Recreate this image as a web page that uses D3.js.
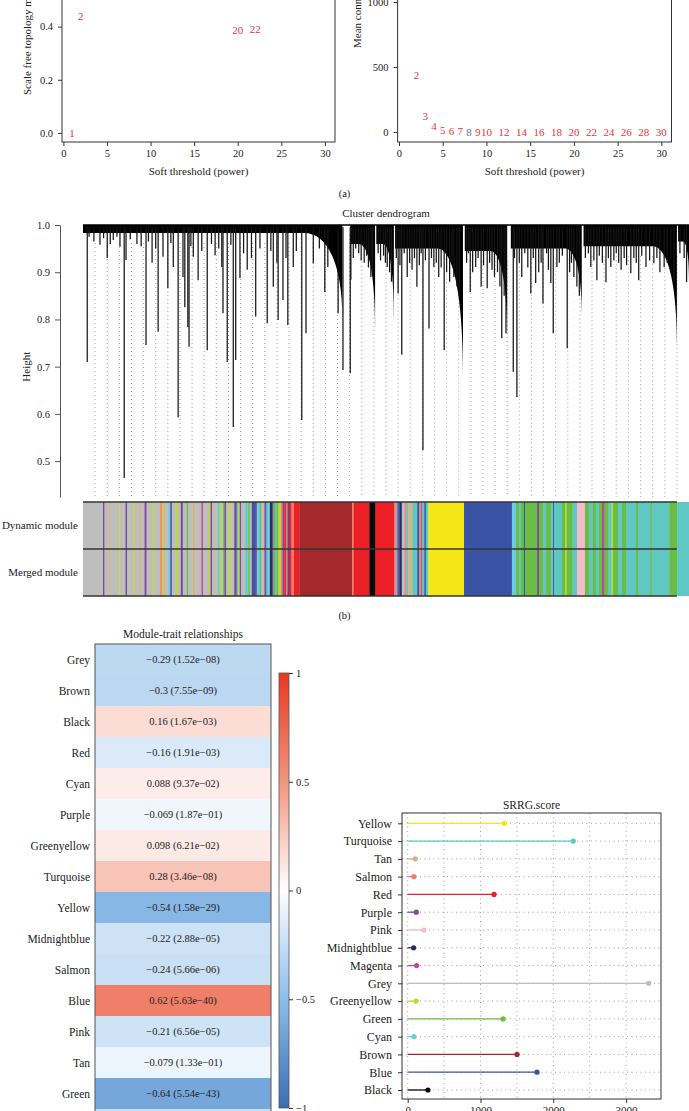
<!DOCTYPE html>
<html>
<head>
<meta charset="utf-8">
<script src="https://cdn.jsdelivr.net/npm/d3@7"></script>
<style>
  body { margin: 0; background: #fff; }
  svg { display: block; }
</style>
</head>
<body>
<script>
// ---------- data ----------
// (a) soft-threshold scan (only the points that fall inside the picture)
var fitPowers = [1, 2, 20, 22];
var fitValues = [0.0, 0.44, 0.385, 0.39];
var connPowers = [2, 3, 4, 5, 6, 7, 8, 9, 10, 12, 14, 16, 18, 20, 22, 24, 26, 28, 30];
var connValues = [436, 125, 46, 16, 8, 4, 2, 1.2, 0.8, 0.5, 0.3, 0.2, 0.15, 0.1, 0.08, 0.06, 0.05, 0.04, 0.03];
var chosenPower = 8;
var powerTicks = [0, 5, 10, 15, 20, 25, 30];
var fitTicks = [0, 0.2, 0.4];
var connTicks = [0, 500, 1000];

// (b) dendrogram, leaf order 0..1000
var clusterStart    = [0,     441,   484,   515,   630,   706,   826,   982];
var clusterEnd      = [428,   482,   513,   627,   700,   823,   980,   1000];
var clusterShoulder = [365,   455,   495,   585,   672,   795,   940,   990];
var clusterBase     = [0.983, 0.96,  0.96,  0.95,  0.945, 0.95,  0.955, 0.965];
var clusterTail     = [0.80,  0.778, 0.795, 0.68,  0.76,  0.81,  0.742, 0.879];

var dendroSpikes = [
  [7,0.71],[10,0.975],[18,0.965],[28,0.958],[34,0.972],[40,0.93],[45,0.96],[50,0.968],[56,0.975],
  [61,0.954],[68,0.464],[71,0.926],[78,0.97],[89,0.96],[96,0.955],[104,0.746],[108,0.965],[114,0.92],
  [120,0.95],[124,0.774],[132,0.933],[140,0.866],[145,0.962],[149,0.911],[157,0.593],[165,0.89],
  [168,0.826],[173,0.784],[175,0.742],[178,0.955],[182,0.933],[190,0.883],[196,0.945],[205,0.735],
  [212,0.96],[218,0.936],[224,0.95],[229,0.911],[231,0.813],[238,0.71],[244,0.958],[248,0.572],
  [252,0.714],[259,0.888],[265,0.94],[271,0.905],[278,0.93],[285,0.806],[292,0.95],[304,0.792],
  [310,0.945],[314,0.869],[320,0.92],[322,0.799],[330,0.841],[335,0.93],[338,0.788],[347,0.911],
  [352,0.945],[361,0.587],[368,0.771],[380,0.919],[390,0.95],[399,0.858],[404,0.911],[421,0.813],
  [429,0.693],[441,0.686],[442,0.884],[446,0.93],[450,0.95],[455,0.94],[459,0.925],[464,0.92],
  [468,0.935],[471,0.91],[475,0.89],[478,0.9],[487,0.94],[491,0.925],[496,0.935],[499,0.92],
  [502,0.911],[506,0.9],[509,0.88],[517,0.93],[520,0.855],[523,0.915],[526,0.725],[530,0.94],
  [535,0.89],[539,0.92],[543,0.905],[547,0.93],[551,0.869],[555,0.915],[558,0.94],[561,0.523],
  [565,0.925],[571,0.781],[575,0.93],[579,0.911],[583,0.92],[587,0.89],[591,0.91],[596,0.735],
  [600,0.9],[605,0.88],[609,0.92],[612,0.89],[617,0.87],[621,0.85],[633,0.92],[636,0.94],
  [639,0.858],[643,0.9],[648,0.911],[652,0.93],[657,0.869],[661,0.915],[667,0.866],[671,0.92],
  [675,0.905],[679,0.89],[684,0.9],[688,0.87],[691,0.76],[695,0.85],[698,0.771],[710,0.689],
  [712,0.93],[716,0.636],[720,0.92],[724,0.89],[729,0.94],[734,0.91],[739,0.855],[743,0.93],
  [747,0.877],[752,0.9],[756,0.92],[759,0.834],[765,0.94],[768,0.905],[772,0.877],[776,0.771],
  [782,0.911],[786,0.92],[791,0.935],[799,0.739],[803,0.9],[806,0.92],[810,0.89],[815,0.87],
  [819,0.85],[829,0.93],[834,0.94],[838,0.911],[843,0.925],[848,0.883],[852,0.935],[857,0.92],
  [863,0.879],[867,0.93],[871,0.911],[876,0.925],[880,0.94],[884,0.92],[888,0.905],[893,0.93],
  [897,0.915],[904,0.898],[909,0.93],[913,0.92],[917,0.883],[922,0.935],[929,0.911],[935,0.925],
  [942,0.919],[947,0.93],[952,0.9],[959,0.911],[964,0.92],[970,0.93],[975,0.88],[985,0.94],
  [992,0.93],[996,0.879]
];
var heightTicks = [0.5, 0.6, 0.7, 0.8, 0.9, 1.0];
var guideCount = 50;

// module colour runs along the leaf order
var runColors = [
  "grey","purple","grey","tan","grey","greenyellow","grey","purple","grey","greenyellow",
  "grey","tan","grey","purple","grey","greenyellow","grey","salmon","greenyellow","tan",
  "grey","cyan","blue","grey","greenyellow","grey","purple","grey","green","grey",
  "tan","grey","magenta","grey","greenyellow","purple","grey","turquoise","greenyellow","grey",
  "green","purple","grey","greenyellow","grey","purple","turquoise","greenyellow","purple","grey",
  "turquoise","cyan","green","grey","blue","purple","cyan","green","grey","purple",
  "turquoise","cyan","midnightblue","purple","green","turquoise","green","greenyellow","salmon","purple",
  "red","salmon","blue","red","salmon","red","brown","salmon","red","black",
  "red","salmon","turquoise","purple","midnightblue","grey","salmon","turquoise","tan","turquoise",
  "blue","salmon","purple","turquoise","blue","turquoise","yellow","blue","cyan","green",
  "turquoise","green","blue","green","purple","green","turquoise","green","turquoise","blue",
  "turquoise","green","greenyellow","green","turquoise","pink","green","turquoise","green","turquoise",
  "green","magenta","green","turquoise","greenyellow","green","turquoise","green","turquoise","green",
  "turquoise","green","turquoise","green","turquoise"
];
var runLengths = [
  33,2.5,6.6,2.5,13,2.5,10,2.5,10,2.5,
  6.6,3.3,6.6,3.3,10,2.5,10,2.5,2.5,2.5,
  6.6,2.5,2.5,6.6,3.3,5,3.3,6.6,2.5,6.6,
  5,10,2.5,10,2.5,2.5,10,2.5,2.5,3.3,
  2.5,2.5,5,3.3,5,4.1,2.5,2.5,2.5,6.6,
  2.5,2.5,2.5,3.3,5,3.3,5,2.5,5,3.3,
  3.3,2.5,3.3,2.5,2.5,2.5,3.3,4.1,2.5,3.3,
  2.5,2.5,2.5,4.1,4.1,9,87,2.5,26,10,
  31,2.5,2.5,4.1,3.3,5,2.5,3.3,6.6,8.2,
  3.3,3.3,1.65,3.3,2.5,4.1,59,79,6.6,5,
  3.3,5,1.65,20,3.3,6.6,5,8.2,3.3,1.65,
  13,5,2.5,10,7.4,13,6.6,6.6,5,5,
  5,4.1,6.6,5,2.5,8.2,6.6,6.6,16.5,3.3,
  20,2.5,29,13,20
];
var barRows = ["Dynamic module", "Merged module"];

// (c) module-trait relationships
var traitModules = ["Grey","Brown","Black","Red","Cyan","Purple","Greenyellow","Turquoise","Yellow",
  "Midnightblue","Salmon","Blue","Pink","Tan","Green","Magenta"];
var traitCor = [-0.29, -0.3, 0.16, -0.16, 0.088, -0.069, 0.098, 0.28, -0.54, -0.22, -0.24, 0.62,
  -0.21, -0.079, -0.64, -0.25];
var traitP = ["1.52e-08","7.55e-09","1.67e-03","1.91e-03","9.37e-02","1.87e-01","6.21e-02","3.46e-08",
  "1.58e-29","2.88e-05","5.66e-06","5.63e-40","6.56e-05","1.33e-01","5.54e-43", null];
var legendTicks = [-1, -0.5, 0, 0.5, 1];

// (d) SRRG score per module
var srrgModules = ["Yellow","Turquoise","Tan","Salmon","Red","Purple","Pink","Midnightblue","Magenta",
  "Grey","Greenyellow","Green","Cyan","Brown","Blue","Black"];
var srrgScore = [1329, 2274, 104, 86, 1186, 118, 223, 82, 123, 3310, 114, 1310, 86, 1502, 1776, 278];
var scoreTicks = [0, 1000, 2000, 3000];
var scoreGrid = [0, 500, 1000, 1500, 2000, 2500, 3000];

// ---------- styling ----------
var SERIF = '"Liberation Serif", "DejaVu Serif", serif';
var moduleColor = {
  grey: "#bebebe", turquoise: "#5fc8c2", blue: "#3a53a4", brown: "#a3292c", yellow: "#f5e617",
  green: "#6abd45", red: "#ec1f26", black: "#0a0a0a", pink: "#f7bbca", magenta: "#bb4a9c",
  purple: "#7d4b9e", greenyellow: "#bfd73a", tan: "#d2b48c", salmon: "#f47e6b", cyan: "#6ccde2",
  midnightblue: "#262a6d"
};
var INK = "#333";

var width = 689, height = 1111;
var svg = d3.select("body").append("svg")
  .attr("width", width).attr("height", height)
  .attr("font-family", SERIF);
svg.append("rect").attr("width", width).attr("height", height).attr("fill", "#fff");

function styleAxis(g, size) {
  g.attr("font-family", SERIF).attr("font-size", size);
  g.selectAll("line, path").attr("stroke", INK);
  g.selectAll("text").attr("fill", "#222");
}
function minus(s) { return String(s).replace(/-/g, "\u2212"); }

// ---------- (a) ----------
var xa1 = d3.scaleLinear().domain([-0.16, 31.16]).range([62, 335]);
var ya1 = d3.scaleLinear().domain([-0.034, 0.5]).range([142, 0]);
var xa2 = d3.scaleLinear().domain([-0.16, 31.16]).range([397.6, 671.5]);
var ya2 = d3.scaleLinear().domain([-77, 1092]).range([142, -10]);

[[xa1, ya1], [xa2, ya2]].forEach(function (s) {
  svg.append("rect")
    .attr("x", s[0].range()[0]).attr("y", -20)
    .attr("width", s[0].range()[1] - s[0].range()[0])
    .attr("height", s[1].range()[0] + 20)
    .attr("fill", "none").attr("stroke", INK).attr("stroke-width", 1);
  svg.append("g").attr("transform", "translate(0," + s[1].range()[0] + ")")
    .call(d3.axisBottom(s[0]).tickValues(powerTicks).tickSize(4).tickPadding(4))
    .call(function (g) { g.select(".domain").remove(); styleAxis(g, 10.5); });
});

svg.append("g").attr("transform", "translate(62,0)")
  .call(d3.axisLeft(ya1).tickValues(fitTicks).tickFormat(d3.format(".1f")).tickSize(4).tickPadding(5))
  .call(function (g) { g.select(".domain").remove(); styleAxis(g, 10.5); });
svg.append("g").attr("transform", "translate(397.6,0)")
  .call(d3.axisLeft(ya2).tickValues(connTicks).tickFormat(d3.format("d")).tickSize(4).tickPadding(5))
  .call(function (g) { g.select(".domain").remove(); styleAxis(g, 10.5); });

svg.append("text").attr("x", d3.mean(xa1.range())).attr("y", 175)
  .attr("text-anchor", "middle").attr("font-size", 11).attr("fill", "#222")
  .text("Soft threshold (power)");
svg.append("text").attr("x", d3.mean(xa2.range())).attr("y", 175)
  .attr("text-anchor", "middle").attr("font-size", 11).attr("fill", "#222")
  .text("Soft threshold (power)");
svg.append("text").attr("transform", "translate(31,95) rotate(-90)")
  .attr("font-size", 11).attr("fill", "#222")
  .text("Scale free topology model fit, signed R^2");
svg.append("text").attr("transform", "translate(361,48) rotate(-90)")
  .attr("font-size", 11).attr("fill", "#222")
  .text("Mean connectivity");

function powerColor(p) { return p === chosenPower ? "#5a6cb4" : "#e8323a"; }

svg.append("g").selectAll("text").data(fitPowers).enter().append("text")
  .attr("x", function (d) { return xa1(d); })
  .attr("y", function (d, i) { return ya1(fitValues[i]); })
  .attr("dy", "0.35em").attr("text-anchor", "middle").attr("font-size", 11)
  .attr("fill", powerColor)
  .text(function (d) { return d; });
svg.append("g").selectAll("text").data(connPowers).enter().append("text")
  .attr("x", function (d) { return xa2(d); })
  .attr("y", function (d, i) { return ya2(connValues[i]); })
  .attr("dy", "0.35em").attr("text-anchor", "middle").attr("font-size", 11)
  .attr("fill", powerColor)
  .text(function (d) { return d; });

svg.append("text").attr("x", 344.5).attr("y", 197).attr("text-anchor", "middle")
  .attr("font-size", 10.5).attr("fill", "#222").text("(a)");

// ---------- (b) dendrogram ----------
var xd = d3.scaleLinear().domain([0, 1000]).range([83, 689]);
var yd = d3.scaleLinear().domain([0.424, 1.0]).range([497, 225]);

svg.append("text").attr("x", d3.mean(xd.range())).attr("y", 217)
  .attr("text-anchor", "middle").attr("font-size", 11).attr("fill", "#222")
  .text("Cluster dendrogram");

svg.append("g").attr("transform", "translate(60,0)")
  .call(d3.axisLeft(yd).tickValues(heightTicks).tickFormat(d3.format(".1f")).tickSize(5).tickSizeOuter(0).tickPadding(5))
  .call(function (g) { styleAxis(g, 10.5); g.selectAll("line, path").attr("stroke", "#555"); });
svg.append("text").attr("transform", "translate(30," + yd(0.7) + ") rotate(-90)")
  .attr("text-anchor", "middle").attr("font-size", 11).attr("fill", "#222").text("Height");

var clusters = clusterStart.map(function (s, i) {
  return { start: s, end: clusterEnd[i], shoulder: clusterShoulder[i], base: clusterBase[i], tail: clusterTail[i] };
});
function baseAt(pos) {
  var c = clusters.find(function (c) { return pos >= c.start && pos <= c.end; });
  return c ? c.base : 1.0;
}

// guide lines first so the tree sits on top
var guides = d3.range(1, guideCount).map(function (i) { return i * 1000 / guideCount; });
svg.append("g").selectAll("line").data(guides).enter().append("line")
  .attr("x1", function (d) { return xd(d); }).attr("x2", function (d) { return xd(d); })
  .attr("y1", function (d) { return yd(baseAt(d)) + 10; })
  .attr("y2", yd.range()[0])
  .attr("stroke", "#8f8f8f").attr("stroke-width", 0.9).attr("stroke-dasharray", "1,3");

var tree = svg.append("g");
tree.selectAll("path").data(clusters).enter().append("path")
  .attr("fill", "#000")
  .attr("d", function (c) {
    var x0 = xd(c.start), x1 = xd(c.end), xs = xd(c.shoulder);
    var yT = yd(1.0), yB = yd(c.base), yL = yd(c.tail);
    return "M" + x0 + "," + yT + "L" + x1 + "," + yT + "L" + x1 + "," + yL +
      "C" + x1 + "," + (yB + (yL - yB) * 0.3) + " " + (xs + (x1 - xs) * 0.55) + "," + yB + " " + xs + "," + yB +
      "L" + x0 + "," + yB + "Z";
  });
tree.selectAll("line.spike").data(dendroSpikes).enter().append("line")
  .attr("class", "spike")
  .attr("x1", function (d) { return xd(d[0]); }).attr("x2", function (d) { return xd(d[0]); })
  .attr("y1", yd(0.995))
  .attr("y2", function (d) { return yd(d[1]); })
  .attr("stroke", "#151515").attr("stroke-width", 1.25);
tree.append("line")
  .attr("x1", xd(0)).attr("x2", xd(1000)).attr("y1", yd(1.0)).attr("y2", yd(1.0))
  .attr("stroke", "#000").attr("stroke-width", 1.5);

// module colour bars
var yb = d3.scaleBand().domain(barRows).range([502, 596]);
var runStarts = [];
runLengths.reduce(function (acc, v) { runStarts.push(acc); return acc + v; }, 0);

svg.append("clipPath").attr("id", "barclip").append("rect")
  .attr("x", xd(0)).attr("y", yb.range()[0]).attr("width", xd(1000) - xd(0)).attr("height", yb.range()[1] - yb.range()[0]);

var bars = svg.append("g").attr("clip-path", "url(#barclip)");
barRows.forEach(function (row) {
  bars.append("g").selectAll("rect").data(runColors).enter().append("rect")
    .attr("x", function (d, i) { return xd(runStarts[i]); })
    .attr("width", function (d, i) { return xd(runStarts[i] + runLengths[i]) - xd(runStarts[i]) + 0.3; })
    .attr("y", yb(row)).attr("height", yb.bandwidth())
    .attr("fill", function (d) { return moduleColor[d]; });
});
[yb.range()[0], yb(barRows[1]), yb.range()[1]].forEach(function (y) {
  svg.append("line").attr("x1", xd(0)).attr("x2", xd(980)).attr("y1", y).attr("y2", y)
    .attr("stroke", "#333").attr("stroke-width", 1.4);
});
svg.append("g").selectAll("text").data(barRows).enter().append("text")
  .attr("x", 78).attr("y", function (d) { return yb(d) + yb.bandwidth() / 2; })
  .attr("dy", "0.35em").attr("text-anchor", "end").attr("font-size", 11).attr("fill", "#222")
  .text(function (d) { return d; });

svg.append("text").attr("x", 344.5).attr("y", 619).attr("text-anchor", "middle")
  .attr("font-size", 10.5).attr("fill", "#222").text("(b)");

// ---------- (c) heatmap ----------
var heatColor = d3.scaleLinear().domain([-1, -0.5, 0, 0.5, 1])
  .range(["#3b6db3", "#8dbde9", "#ffffff", "#f29580", "#e8381f"]);
var yh = d3.scaleBand().domain(traitModules).range([644, 644 + 31 * traitModules.length]);
var hx0 = 95, hx1 = 271;

svg.append("text").attr("x", (hx0 + hx1) / 2).attr("y", 638)
  .attr("text-anchor", "middle").attr("font-size", 11.5).attr("fill", "#222")
  .text("Module-trait relationships");

var heat = svg.append("g");
heat.selectAll("rect").data(traitModules).enter().append("rect")
  .attr("x", hx0).attr("width", hx1 - hx0)
  .attr("y", function (d) { return yh(d); }).attr("height", yh.bandwidth() + 0.5)
  .attr("fill", function (d, i) { return heatColor(traitCor[i]); });
heat.selectAll("text.val").data(traitModules).enter().filter(function (d, i) { return traitP[i]; })
  .append("text").attr("class", "val")
  .attr("x", (hx0 + hx1) / 2)
  .attr("y", function (d) { return yh(d) + yh.bandwidth() / 2; })
  .attr("dy", "0.35em").attr("text-anchor", "middle").attr("font-size", 10.5).attr("fill", "#222")
  .text(function (d) { var i = traitModules.indexOf(d); return minus(traitCor[i]) + " (" + minus(traitP[i]) + ")"; });
heat.selectAll("text.lab").data(traitModules).enter().append("text").attr("class", "lab")
  .attr("x", 90).attr("y", function (d) { return yh(d) + yh.bandwidth() / 2; })
  .attr("dy", "0.35em").attr("text-anchor", "end").attr("font-size", 11.5).attr("fill", "#222")
  .text(function (d) { return d; });
heat.append("rect").attr("x", hx0).attr("y", 644).attr("width", hx1 - hx0).attr("height", 600)
  .attr("fill", "none").attr("stroke", "#555").attr("stroke-width", 1);

// colour legend
var yl = d3.scaleLinear().domain([-1, 1]).range([1108, 673]);
var grad = svg.append("defs").append("linearGradient").attr("id", "heatgrad")
  .attr("x1", 0).attr("y1", 1).attr("x2", 0).attr("y2", 0);
grad.selectAll("stop").data(d3.range(-1, 1.0001, 0.1)).enter().append("stop")
  .attr("offset", function (d) { return (d + 1) / 2; })
  .attr("stop-color", function (d) { return heatColor(d); });
svg.append("rect").attr("x", 279).attr("y", yl(1)).attr("width", 10).attr("height", yl(-1) - yl(1))
  .attr("fill", "url(#heatgrad)").attr("stroke", "#555").attr("stroke-width", 0.8);
svg.append("g").attr("transform", "translate(289,0)")
  .call(d3.axisRight(yl).tickValues(legendTicks).tickFormat(function (d) { return minus(d); }).tickSize(4).tickPadding(3))
  .call(function (g) { g.select(".domain").remove(); styleAxis(g, 10.5); });

// ---------- (d) SRRG score ----------
var xs = d3.scaleLinear().domain([-78, 3479]).range([402, 661]);
var ys = d3.scalePoint().domain(srrgModules).range([823.3, 1090]);
var boxTop = 813, boxBottom = 1099;

svg.append("text").attr("x", d3.mean(xs.range())).attr("y", 809)
  .attr("text-anchor", "middle").attr("font-size", 11.5).attr("fill", "#222").text("SRRG.score");

var lol = svg.append("g");
lol.selectAll("line.vg").data(scoreGrid).enter().append("line").attr("class", "vg")
  .attr("x1", function (d) { return xs(d); }).attr("x2", function (d) { return xs(d); })
  .attr("y1", boxTop).attr("y2", boxBottom)
  .attr("stroke", "#888").attr("stroke-width", 0.8).attr("stroke-dasharray", "1,3.5");
lol.selectAll("line.hg").data(srrgModules).enter().append("line").attr("class", "hg")
  .attr("x1", xs.range()[0]).attr("x2", xs.range()[1])
  .attr("y1", function (d) { return ys(d); }).attr("y2", function (d) { return ys(d); })
  .attr("stroke", "#888").attr("stroke-width", 0.8).attr("stroke-dasharray", "1,3.5");
lol.selectAll("line.stem").data(srrgModules).enter().append("line").attr("class", "stem")
  .attr("x1", xs(0)).attr("x2", function (d, i) { return xs(srrgScore[i]); })
  .attr("y1", function (d) { return ys(d); }).attr("y2", function (d) { return ys(d); })
  .attr("stroke", function (d) { return moduleColor[d.toLowerCase()]; }).attr("stroke-width", 1.3);
lol.selectAll("circle").data(srrgModules).enter().append("circle")
  .attr("cx", function (d, i) { return xs(srrgScore[i]); })
  .attr("cy", function (d) { return ys(d); }).attr("r", 2.6)
  .attr("fill", function (d) { return moduleColor[d.toLowerCase()]; });
lol.append("rect").attr("x", xs.range()[0]).attr("y", boxTop)
  .attr("width", xs.range()[1] - xs.range()[0]).attr("height", boxBottom - boxTop)
  .attr("fill", "none").attr("stroke", INK).attr("stroke-width", 1);

svg.append("g").attr("transform", "translate(" + xs.range()[0] + ",0)")
  .call(d3.axisLeft(ys).tickSize(4).tickPadding(6))
  .call(function (g) { g.select(".domain").remove(); styleAxis(g, 12); });
svg.append("g").attr("transform", "translate(0," + boxBottom + ")")
  .call(d3.axisBottom(xs).tickValues(scoreTicks).tickFormat(d3.format("d")).tickSize(4).tickPadding(3))
  .call(function (g) { g.select(".domain").remove(); styleAxis(g, 11); });
</script>
</body>
</html>
